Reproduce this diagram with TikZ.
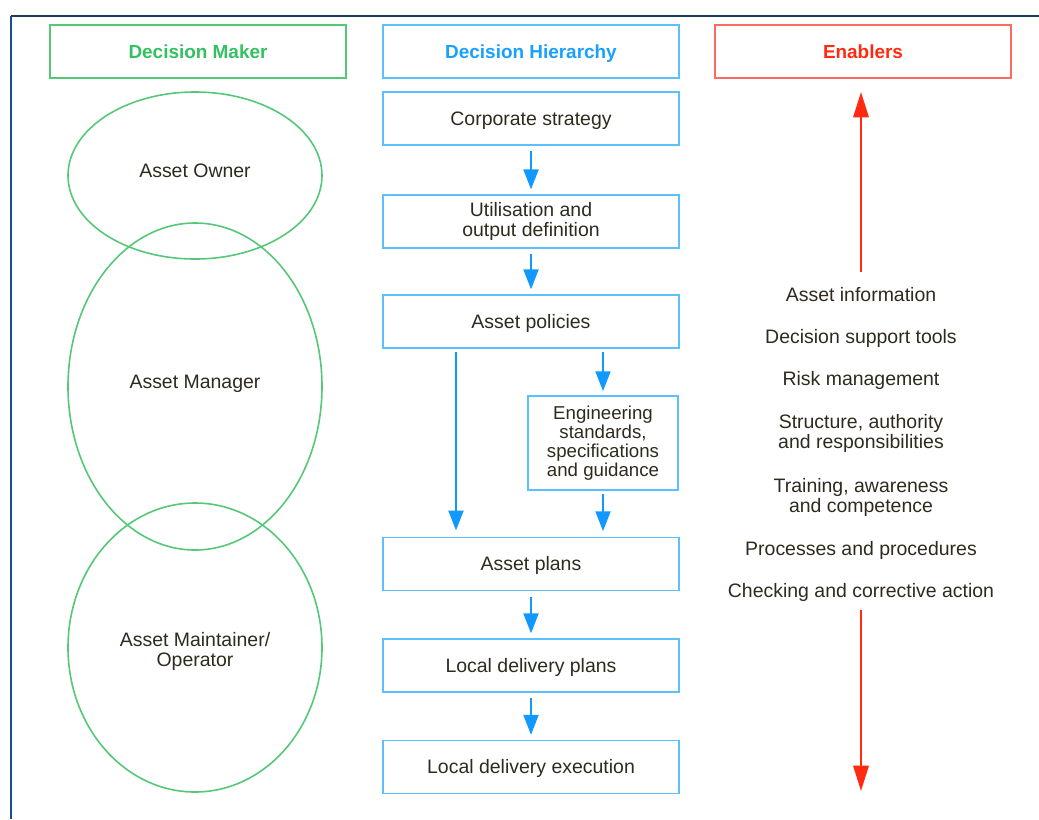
\documentclass[tikz,border=0pt]{standalone}
\usepackage{fontspec}
\setmainfont{Liberation Sans}
\usetikzlibrary{shapes.geometric,arrows.meta}
\definecolor{txt}{HTML}{2E2A1E}
\definecolor{gr}{HTML}{55C878}
\definecolor{grt}{HTML}{33C060}
\definecolor{bl}{HTML}{5CC0FF}
\definecolor{blt}{HTML}{18A0FF}
\definecolor{ar}{HTML}{1199FF}
\definecolor{rd}{HTML}{FF2A10}
\definecolor{rdb}{HTML}{FF6A60}
\definecolor{frt}{HTML}{1C3A5C}
\definecolor{frl}{HTML}{174E92}
\begin{document}
\begin{tikzpicture}[x=0.75pt,y=-0.75pt,
  every node/.style={font=\fontsize{14.6pt}{15pt}\selectfont, text=txt, align=center, inner sep=0pt},
  one/.style={text height=1.0em, text depth=0em},
  hdr/.style={draw, one, line width=1.1pt, minimum width=222pt, minimum height=39.75pt, font=\fontsize{14.2pt}{15pt}\selectfont\bfseries},
  hbox/.style={draw=bl, line width=1.1pt, minimum width=222pt, minimum height=40pt},
  ell/.style={draw=gr, ellipse, line width=1.2pt, minimum width=190.5pt},
  barr/.style={draw=ar, line width=2.2pt, -{Triangle[length=15pt,width=11pt]}},
  rarr/.style={draw=rd, line width=1.7pt, -{Triangle[length=19pt,width=11.5pt]}}
]
\useasboundingbox (0,0) rectangle (1039,819);
% frame
\draw[frt, line width=1.6pt] (11,16) -- (1039,16);
\draw[frl, line width=1.6pt] (11,16) -- (11,819);
% headers
\node[hdr, draw=gr, text=grt] (dm) at (198,51.5) {Decision Maker};
\node[hdr, draw=bl, text=blt] (dh) at (531,51.5) {Decision Hierarchy};
\node[hdr, draw=rdb, text=rd] (en) at (863,51.5) {Enablers};
% ellipses
\node[ell, minimum height=125.25pt] (own) at (195,175.5) {};
\node[ell, minimum height=245.25pt] (man) at (195,386.5) {};
\node[ell, minimum height=216.75pt] (mnt) at (195,647.5) {};
\node[one] (ownt) at (195,171) {Asset Owner};
\node[one] (mant) at (195,382) {Asset Manager};
\node (mntt) at (195,651.5) {Asset Maintainer/\\Operator};
% hierarchy boxes
\node[hbox, one] (cs) at (531,118.5) {Corporate strategy};
\node[hbox] (ut) at (531,221.5) {Utilisation and\\output definition};
\node[hbox, one] (ap) at (531,321.5) {Asset policies};
\node[draw=bl, line width=1.1pt, minimum width=112.5pt, minimum height=70.5pt, font=\fontsize{14pt}{14.3pt}\selectfont] (eng) at (603,443) {\rule{0pt}{2.5pt}Engineering\\standards,\\specifications\\and guidance};
\node[hbox, one] (pl) at (531,564) {Asset plans};
\node[hbox, one] (ld) at (531,665.5) {Local delivery plans};
\node[hbox, one] (le) at (531,767) {Local delivery execution};
% blue arrows
\draw[barr, shorten <=4pt, shorten >=3.5pt] (cs.south) -- (ut.north);
\draw[barr, shorten <=4pt, shorten >=3.5pt] (ut.south) -- (ap.north);
\draw[barr, shorten <=2.5pt, shorten >=4.5pt] (ap.south -| 456,0) -- (pl.north -| 456,0);
\draw[barr, shorten <=2.5pt, shorten >=3pt] (ap.south -| eng.north) -- (eng.north);
\draw[barr, shorten <=2.5pt, shorten >=4pt] (eng.south) -- (pl.north -| eng.south);
\draw[barr, shorten <=4pt, shorten >=3.5pt] (pl.south) -- (ld.north);
\draw[barr, shorten <=4pt, shorten >=3.5pt] (ld.south) -- (le.north);
% enablers
\node[one] (e1) at (861,295) {Asset information};
\node[one] (e2) at (861,337) {Decision support tools};
\node[one] (e3) at (861,379) {Risk management};
\node (e4) at (861,433.5) {Structure, authority\\and responsibilities};
\node (e5) at (861,497.5) {Training, awareness\\and competence};
\node[one] (e6) at (861,549) {Processes and procedures};
\node[one] (e7) at (861,591) {Checking and corrective action};
\coordinate (upEnd) at (861,92);
\coordinate (dnEnd) at (861,791);
\draw[rarr] (861,272) -- (upEnd);
\draw[rarr] (861,610) -- (dnEnd);
\end{tikzpicture}
\end{document}
